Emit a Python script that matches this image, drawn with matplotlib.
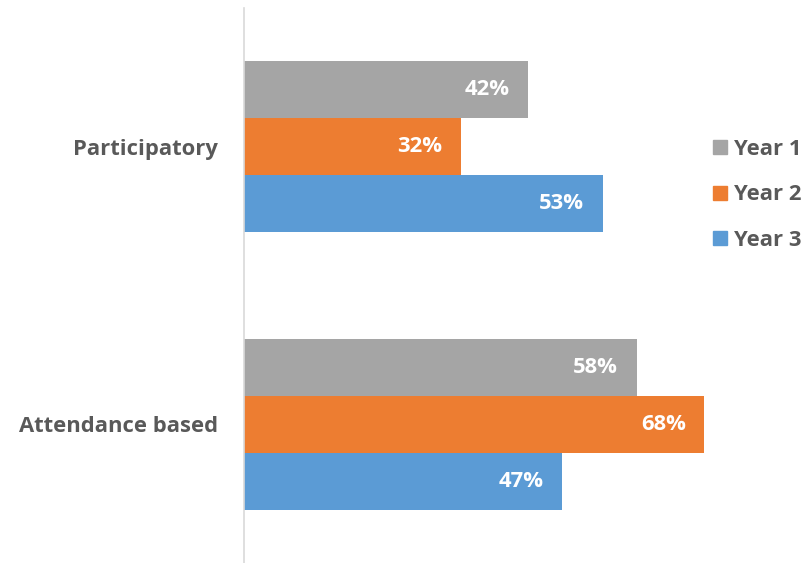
import matplotlib
matplotlib.use("Agg")
import matplotlib.pyplot as plt
from matplotlib.patches import Patch

categories = ["Attendance based", "Participatory"]
series = ["Year 1", "Year 2", "Year 3"]
year1 = [58, 42]
year2 = [68, 32]
year3 = [47, 53]
colors = ["#a5a5a5", "#ed7d31", "#5b9bd5"]

plt.rcParams["font.family"] = ["Open Sans", "DejaVu Sans"]
text_grey = "#595959"
fs = 15.8

fig = plt.figure(figsize=(8.07, 5.63), dpi=100)
ax = fig.add_axes([244 / 807, 0.0, 474 / 807, 555 / 563])

bar_h = 0.205
offsets = [bar_h, 0.0, -bar_h]
for vals, off, col, name in zip([year1, year2, year3], offsets, colors, series):
    ypos = [i + off for i in range(len(categories))]
    bars = ax.barh(ypos, vals, height=bar_h, color=col, label=name)
    for b, v in zip(bars, vals):
        ax.annotate(f"{v}%", (b.get_width(), b.get_y() + b.get_height() / 2),
                    xytext=(-13.5, 0), textcoords="offset points",
                    ha="right", va="center", color="white", fontsize=fs,
                    fontweight="bold")

ax.set_xlim(0, 70)
ax.set_ylim(-0.5, 1.5)
ax.set_yticks(range(len(categories)))
ax.set_yticklabels(categories, fontsize=fs, fontweight="bold", color=text_grey)
ax.tick_params(axis="y", length=0, pad=18.5)
ax.set_xticks([])
for side in ["top", "right", "bottom"]:
    ax.spines[side].set_visible(False)
ax.spines["left"].set_color("#d9d9d9")
ax.spines["left"].set_linewidth(1.2)

handles = [Patch(color=c, label=s) for c, s in zip(colors, series)]
leg = fig.legend(handles=handles, loc="center left",
                 bbox_to_anchor=(713 / 807, 1 - 195 / 563), frameon=False,
                 handlelength=0.62, handleheight=0.62, handletextpad=0.35,
                 labelspacing=1.12, prop={"size": fs, "weight": "bold"},
                 borderaxespad=0, borderpad=0)
for t in leg.get_texts():
    t.set_color(text_grey)

fig.savefig("out.png", dpi=100)
